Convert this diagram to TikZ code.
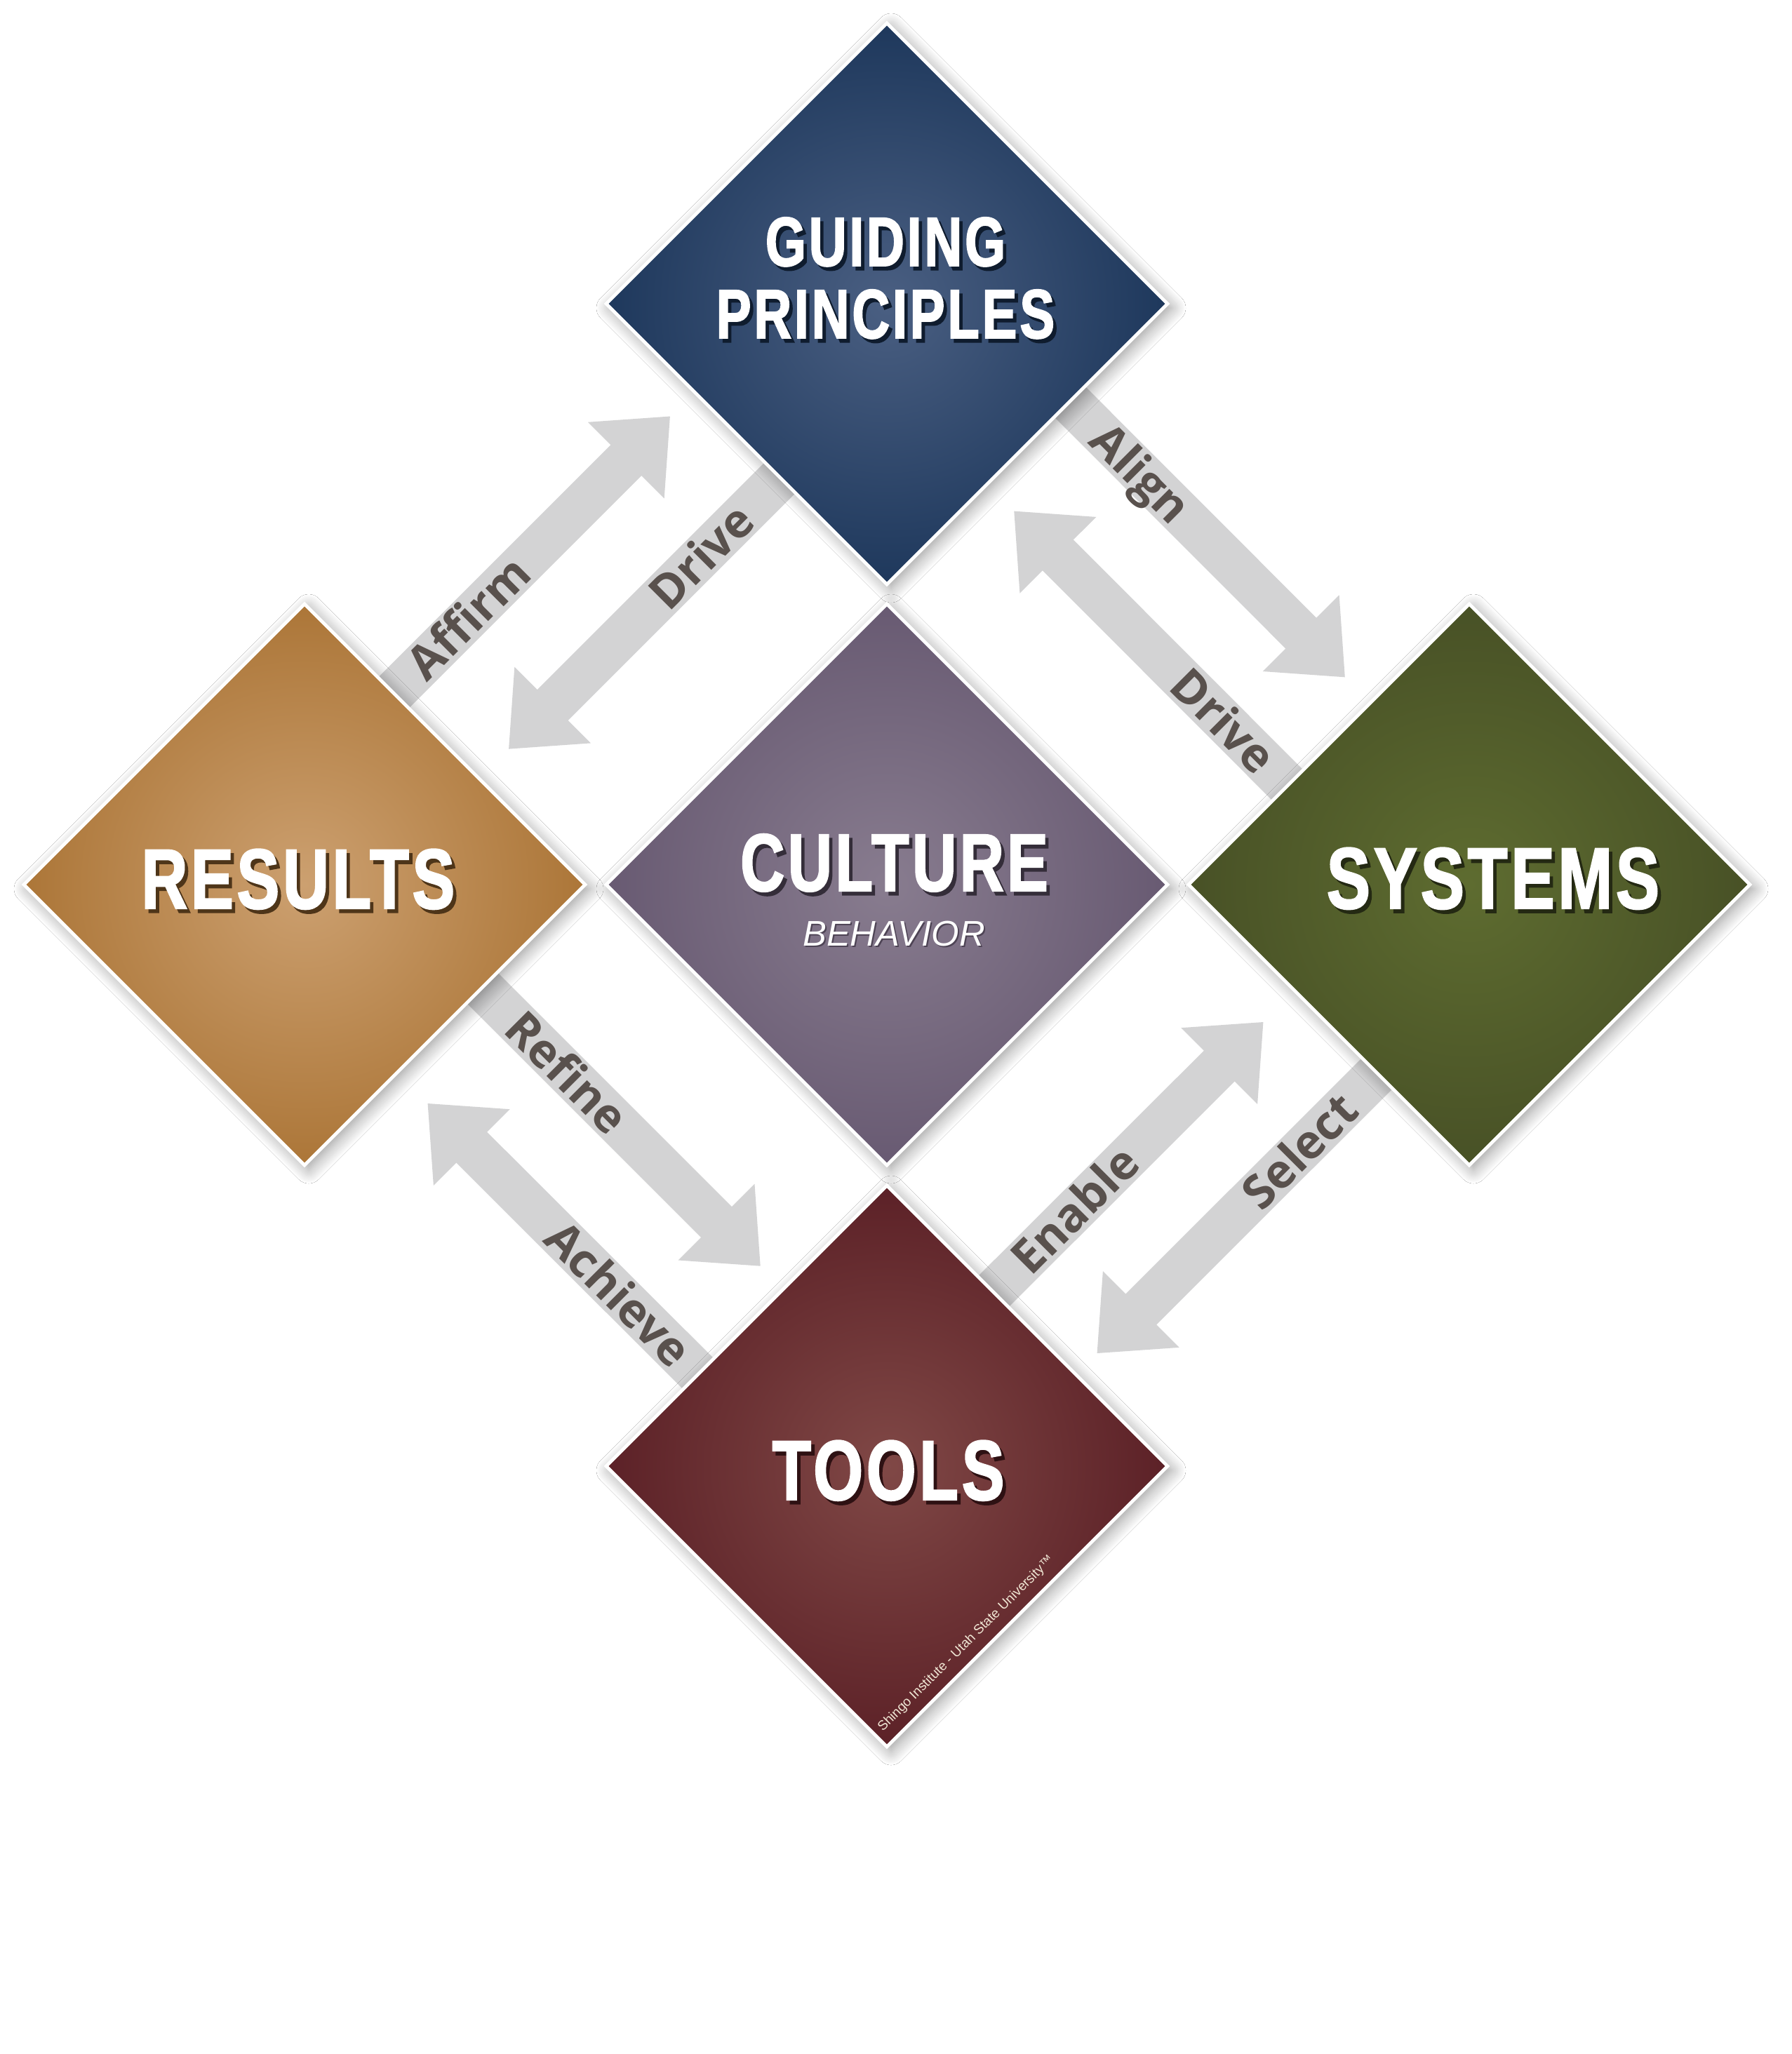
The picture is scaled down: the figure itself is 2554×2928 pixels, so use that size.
\documentclass[tikz,border=0pt]{standalone}
\usepackage{fontspec}
\usetikzlibrary{shapes.geometric,arrows.meta,shadows.blur,backgrounds}

\newfontfamily\titlefont{Liberation Sans}[FakeStretch=0.75,LetterSpace=4,BoldFeatures={FakeBold=1.8}]
\newfontfamily\labelfont{Open Sans}
\newfontfamily\notefont{Liberation Sans}

\definecolor{gpIn}{RGB}{74,95,130}
\definecolor{gpOut}{RGB}{30,56,92}
\definecolor{cuIn}{RGB}{136,124,143}
\definecolor{cuOut}{RGB}{104,90,114}
\definecolor{reIn}{RGB}{204,160,112}
\definecolor{reOut}{RGB}{172,118,56}
\definecolor{syIn}{RGB}{94,108,48}
\definecolor{syOut}{RGB}{72,81,38}
\definecolor{toIn}{RGB}{128,72,70}
\definecolor{toOut}{RGB}{92,33,39}
\definecolor{arrowgrey}{RGB}{211,211,212}
\definecolor{labelgrey}{RGB}{89,81,77}
\definecolor{notecream}{RGB}{240,230,212}

% white text with a dark copy behind it
\newcommand{\shtext}[2]{\leavevmode\rlap{\hspace{1.2pt}\raisebox{-1.4pt}{\textcolor{#1}{#2}}}#2}
\newcommand{\thinsh}[2]{\leavevmode\rlap{\hspace{0.5pt}\raisebox{-0.6pt}{\textcolor{#1}{#2}}}#2}

\tikzset{every picture/.style={line width=0.75pt}}
\tikzset{
  tile/.style={diamond, aspect=1, minimum width=200.5pt, minimum height=200.5pt, inner sep=0pt,
    draw=white, line width=1.2pt,
    blur shadow={shadow xshift=1.5pt, shadow yshift=-1.5pt, shadow blur radius=5pt, shadow blur steps=12, shadow opacity=40}},
  bigarrow/.style={draw=arrowgrey, line width=15.5pt, -{Triangle[length=22.25pt,width=37pt]}},
  arrowlabel/.style={text=labelgrey, inner sep=0pt, text height=12pt, text depth=0pt,
    font=\labelfont\bfseries\fontsize{16.75pt}{18pt}\selectfont},
  title/.style={text=white, anchor=base, inner sep=0pt,
    font=\titlefont\bfseries\fontsize{30.3pt}{34pt}\selectfont},
}

\begin{document}
\begin{tikzpicture}[x=0.25pt,y=0.25pt,yscale=-1,xscale=1]
\useasboundingbox (0,0) rectangle (2554,2928);

%Shape: Diamond [guiding principles]
\draw (1264,433) node (gp) [tile, shade, inner color=gpIn, outer color=gpOut] {};
%Shape: Diamond [culture]
\draw (1264,1261) node (culture) [tile, shade, inner color=cuIn, outer color=cuOut] {};
%Shape: Diamond [results]
\draw (434,1261) node (results) [tile, shade, inner color=reIn, outer color=reOut] {};
%Shape: Diamond [systems]
\draw (2094,1261) node (systems) [tile, shade, inner color=syIn, outer color=syOut] {};
%Shape: Diamond [tools]
\draw (1264,2090) node (tools) [tile, shade, inner color=toIn, outer color=toOut] {};

\begin{pgfonlayer}{background}
\fill[white] (0,0) rectangle (2554,2928);
% arrow ends
\coordinate (affirmS) at (520,1028.5);
\coordinate (affirmE) at (955.2,593.2);
\coordinate (driveGpS) at (1140,652.7);
\coordinate (driveGpE) at (724.8,1067.9);
\coordinate (alignS) at (1497,545);
\coordinate (alignE) at (1917.1,965.6);
\coordinate (driveSyS) at (1863,1147);
\coordinate (driveSyE) at (1445,728.3);
\coordinate (refineS) at (660,1381);
\coordinate (refineE) at (1084,1805);
\coordinate (achieveS) at (1023,1986);
\coordinate (achieveE) at (609.3,1572.7);
\coordinate (enableS) at (1388,1869);
\coordinate (enableE) at (1800.7,1456.7);
\coordinate (selectS) at (1990.5,1502.5);
\coordinate (selectE) at (1563.3,1929.3);
%Straight Lines
\draw [bigarrow] (affirmS) -- (affirmE);
\draw [bigarrow] (driveGpS) -- (driveGpE);
\draw [bigarrow] (alignS) -- (alignE);
\draw [bigarrow] (driveSyS) -- (driveSyE);
\draw [bigarrow] (refineS) -- (refineE);
\draw [bigarrow] (achieveS) -- (achieveE);
\draw [bigarrow] (enableS) -- (enableE);
\draw [bigarrow] (selectS) -- (selectE);
\end{pgfonlayer}

% Text Node
\draw (1262,379) node (gpTop) [title, font=\titlefont\bfseries\fontsize{24.8pt}{28pt}\selectfont] {\shtext{gpOut!50!black}{GUIDING}};
% Text Node
\draw (1262,482) node (gpBot) [title, font=\titlefont\bfseries\fontsize{24.8pt}{28pt}\selectfont] {\shtext{gpOut!50!black}{PRINCIPLES}};
% Text Node
\draw (1274.5,1270) node (cuTop) [title, font=\titlefont\bfseries\fontsize{29.1pt}{33pt}\selectfont] {\shtext{cuOut!50!black}{CULTURE}};
% Text Node
\draw (1274,1348) node (cuBot) [title, font=\notefont\itshape\fontsize{12.7pt}{14pt}\selectfont] {\thinsh{cuOut!75!black}{BEHAVIOR}};
% Text Node
\draw (425,1295) node (reText) [title] {\shtext{reOut!45!black}{RESULTS}};
% Text Node
\draw (2128,1295) node (syText) [title, font=\titlefont\bfseries\fontsize{31pt}{34pt}\selectfont] {\shtext{syOut!50!black}{SYSTEMS}};
% Text Node
\draw (1266,2138) node (toText) [title] {\shtext{toOut!50!black}{TOOLS}};

% Text Node
\draw (667.9,880.7) node (affirmLbl) [arrowlabel, rotate=45] {Affirm};
% Text Node
\draw (999.6,793.1) node (driveGpLbl) [arrowlabel, rotate=45] {Drive};
% Text Node
\draw (1626.3,674.3) node (alignLbl) [arrowlabel, rotate=-45] {Align};
% Text Node
\draw (1743.9,1027.9) node (driveSyLbl) [arrowlabel, rotate=-45] {Drive};
% Text Node
\draw (807.9,1528.9) node (refineLbl) [arrowlabel, rotate=-45] {Refine};
% Text Node
\draw (881.5,1844.5) node (achieveLbl) [arrowlabel, rotate=-45] {Achieve};
% Text Node
\draw (1532.1,1724.6) node (enableLbl) [arrowlabel, rotate=45] {Enable};
% Text Node
\draw (1852,1641) node (selectLbl) [arrowlabel, rotate=45] {Select};

% Text Node
\draw (1377,2343) node (noteLbl) [rotate=45, inner sep=0pt, text=notecream, font=\notefont\fontsize{4.75pt}{5.5pt}\selectfont] {Shingo Institute - Utah State University™};

\end{tikzpicture}
\end{document}
